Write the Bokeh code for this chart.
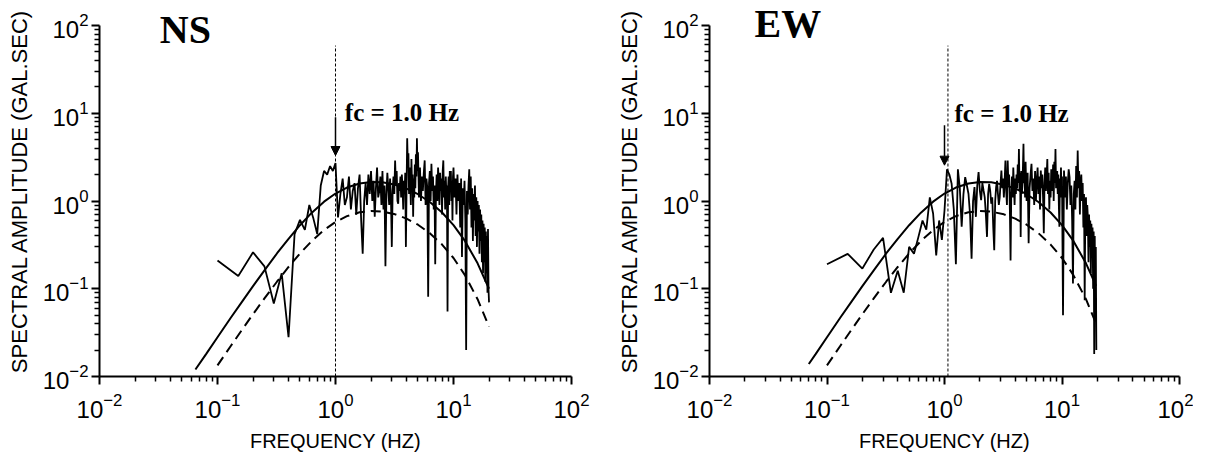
import math
from bokeh.plotting import figure
from bokeh.layouts import row
from bokeh.models import Range1d, FixedTicker, Label, Arrow, NormalHead
from bokeh.embed import file_html
from bokeh.resources import INLINE

# ---------------- data ----------------
major_ticks = [0.01, 0.1, 1, 10, 100]
minor_ticks = [0.02, 0.03, 0.04, 0.05, 0.06, 0.07, 0.08, 0.09,
               0.2, 0.3, 0.4, 0.5, 0.6, 0.7, 0.8, 0.9,
               2, 3, 4, 5, 6, 7, 8, 9,
               20, 30, 40, 50, 60, 70, 80, 90]

# observed Fourier spectrum, NS component
ns_freq = [0.10, 0.15, 0.20, 0.25, 0.30, 0.35, 0.40, 0.45, 0.50, 0.55, 0.60, 0.65, 0.70, 0.75, 0.80, 0.85, 0.90, 0.95, 1.00,
           1.05, 1.10, 1.15, 1.20, 1.25, 1.30, 1.35, 1.40, 1.45, 1.50, 1.55, 1.60, 1.65, 1.70, 1.75, 1.80, 1.85, 1.90, 1.95, 2.00,
           2.05, 2.10, 2.15, 2.20, 2.25, 2.30, 2.35, 2.40, 2.45, 2.50, 2.55, 2.60, 2.65, 2.70, 2.75, 2.80, 2.85, 2.90, 2.95, 3.00,
           3.05, 3.10, 3.15, 3.20, 3.25, 3.30, 3.35, 3.40, 3.45, 3.50, 3.55, 3.60, 3.65, 3.70, 3.75, 3.80, 3.85, 3.90, 3.95, 4.00,
           4.05, 4.10, 4.15, 4.20, 4.25, 4.30, 4.35, 4.40, 4.45, 4.50, 4.55, 4.60, 4.65, 4.70, 4.75, 4.80, 4.85, 4.90, 4.95, 5.00,
           5.1, 5.2, 5.3, 5.4, 5.5, 5.6, 5.7, 5.8, 5.9, 6.0,
           6.1, 6.2, 6.3, 6.4, 6.5, 6.6, 6.7, 6.8, 6.9, 7.0,
           7.1, 7.2, 7.3, 7.4, 7.5, 7.6, 7.7, 7.8, 7.9, 8.0,
           8.1, 8.2, 8.3, 8.4, 8.5, 8.6, 8.7, 8.8, 8.9, 9.0,
           9.1, 9.2, 9.3, 9.4, 9.5, 9.6, 9.7, 9.8, 9.9, 10.0,
           10.2, 10.4, 10.6, 10.8, 11.0, 11.2, 11.4, 11.6, 11.8, 12.0,
           12.2, 12.4, 12.6, 12.8, 13.0, 13.2, 13.4, 13.6, 13.8, 14.0,
           14.2, 14.4, 14.6, 14.8, 15.0, 15.2, 15.4, 15.6, 15.8, 16.0,
           16.2, 16.4, 16.6, 16.8, 17.0, 17.2, 17.4, 17.6, 17.8, 18.0,
           18.2, 18.4, 18.6, 18.8, 19.0, 19.2, 19.4, 19.6, 19.8, 20.0]
ns_amp = [0.21, 0.14, 0.26, 0.18, 0.068, 0.15, 0.028, 0.42, 0.61, 0.47, 0.90, 0.63, 0.42, 1.5, 2.2, 2.0, 2.5, 2.2, 2.7,
          0.65, 1.2, 1.8, 0.9, 1.1, 1.9, 0.8, 1.3, 1.6, 0.7, 1.4, 2.0, 0.6, 0.25, 1.0, 1.6, 0.9, 2.0, 1.2, 2.2,
          1.0, 1.7, 0.66, 1.4, 2.4, 1.1, 1.3, 1.9, 0.9, 2.2, 0.8, 1.5, 0.18, 1.2, 2.1, 1.4, 0.9, 1.8, 1.1, 0.30,
          1.3, 1.9, 1.2, 2.9, 1.5, 2.2, 1.0, 0.93, 1.6, 1.3, 1.9, 1.1, 2.0, 1.4, 0.8, 1.7, 1.2, 2.1, 0.30, 1.3,
          5.2, 2.6, 3.5, 1.2, 2.4, 1.7, 0.9, 3.0, 1.5, 2.0, 0.66, 1.8, 1.1, 2.6, 1.4, 3.4, 1.9, 5.2, 2.2, 3.6,
          1.1, 2.4, 1.0, 1.9, 1.3, 2.1, 2.9, 0.9, 1.8, 1.4,
          0.081, 1.6, 2.2, 1.0, 2.65, 1.3, 1.9, 0.8, 1.5, 0.19,
          1.2, 2.0, 1.0, 2.4, 1.6, 0.9, 2.1, 1.3, 1.8, 0.7,
          2.2, 2.9, 1.1, 1.7, 0.8, 1.9, 1.2, 1.5, 0.055, 1.4,
          1.9, 0.9, 2.2, 1.3, 2.2, 1.0, 1.7, 0.6, 1.9, 2.4,
          1.1, 1.8, 0.7, 2.0, 1.0, 1.6, 0.5, 1.8, 0.23, 1.4,
          0.9, 1.7, 0.6, 0.02, 1.3, 0.7, 1.5, 2.3, 0.8, 1.9,
          0.5, 1.4, 0.35, 1.2, 0.6, 1.5, 0.4, 1.1, 0.3, 1.0,
          0.45, 0.9, 0.25, 0.8, 0.35, 0.7, 0.2, 0.6, 0.15, 0.55,
          0.2, 0.5, 0.12, 0.45, 0.15, 0.4, 0.09, 0.48, 0.1, 0.07]

# observed Fourier spectrum, EW component
ew_freq = [0.10, 0.15, 0.20, 0.25, 0.30, 0.35, 0.40, 0.45, 0.50, 0.55, 0.60, 0.65, 0.70, 0.75, 0.80, 0.85, 0.90, 0.95, 1.00,
           1.05, 1.10, 1.15, 1.20, 1.25, 1.30, 1.35, 1.40, 1.45, 1.50, 1.55, 1.60, 1.65, 1.70, 1.75, 1.80, 1.85, 1.90, 1.95, 2.00,
           2.05, 2.10, 2.15, 2.20, 2.25, 2.30, 2.35, 2.40, 2.45, 2.50, 2.55, 2.60, 2.65, 2.70, 2.75, 2.80, 2.85, 2.90, 2.95, 3.00,
           3.05, 3.10, 3.15, 3.20, 3.25, 3.30, 3.35, 3.40, 3.45, 3.50, 3.55, 3.60, 3.65, 3.70, 3.75, 3.80, 3.85, 3.90, 3.95, 4.00,
           4.05, 4.10, 4.15, 4.20, 4.25, 4.30, 4.35, 4.40, 4.45, 4.50, 4.55, 4.60, 4.65, 4.70, 4.75, 4.80, 4.85, 4.90, 4.95, 5.00,
           5.1, 5.2, 5.3, 5.4, 5.5, 5.6, 5.7, 5.8, 5.9, 6.0,
           6.1, 6.2, 6.3, 6.4, 6.5, 6.6, 6.7, 6.8, 6.9, 7.0,
           7.1, 7.2, 7.3, 7.4, 7.5, 7.6, 7.7, 7.8, 7.9, 8.0,
           8.1, 8.2, 8.3, 8.4, 8.5, 8.6, 8.7, 8.8, 8.9, 9.0,
           9.1, 9.2, 9.3, 9.4, 9.5, 9.6, 9.7, 9.8, 9.9, 10.0,
           10.2, 10.4, 10.6, 10.8, 11.0, 11.2, 11.4, 11.6, 11.8, 12.0,
           12.2, 12.4, 12.6, 12.8, 13.0, 13.2, 13.4, 13.6, 13.8, 14.0,
           14.2, 14.4, 14.6, 14.8, 15.0, 15.2, 15.4, 15.6, 15.8, 16.0,
           16.2, 16.4, 16.6, 16.8, 17.0, 17.2, 17.4, 17.6, 17.8, 18.0,
           18.2, 18.4, 18.6, 18.8, 19.0, 19.2, 19.4, 19.6]
ew_amp = [0.19, 0.25, 0.17, 0.28, 0.38, 0.09, 0.16, 0.09, 0.30, 0.25, 0.39, 0.60, 0.47, 1.1, 0.72, 0.24, 0.60, 0.36, 0.78,
          2.3, 2.0, 1.57, 0.8, 0.19, 2.3, 1.4, 0.51, 1.2, 1.87, 1.5, 1.21, 0.7, 0.22, 1.0, 1.44, 0.66, 1.5, 2.14, 1.3,
          1.02, 1.6, 1.32, 1.1, 0.7, 0.39, 1.2, 1.57, 1.3, 0.93, 1.1, 0.5, 0.275, 1.0, 1.44, 1.7, 1.2, 0.9, 1.1, 1.6,
          2.23, 1.4, 1.8, 1.1, 1.7, 2.9, 1.3, 0.9, 2.9, 1.5, 2.0, 0.8, 0.21, 1.2, 1.9, 1.1, 2.4, 1.44, 0.9, 1.8,
          1.2, 2.0, 1.4, 2.6, 1.6, 3.9, 1.3, 2.1, 0.39, 2.2, 1.2, 1.5, 2.4, 4.5, 1.6, 2.0, 1.1, 2.8, 1.5, 1.0,
          2.1, 0.33, 1.4, 2.0, 2.65, 1.3, 1.8, 0.9, 2.2, 1.02,
          1.7, 2.4, 1.2, 1.9, 0.8, 2.23, 1.4, 2.0, 1.1, 0.43,
          1.6, 2.4, 1.3, 1.9, 3.0, 1.2, 2.1, 0.8, 1.7, 1.1,
          2.3, 1.5, 1.3, 2.6, 1.0, 2.8, 1.6, 3.9, 1.4, 1.6,
          2.2, 1.2, 2.0, 0.9, 0.51, 1.8, 1.1, 2.4, 1.2, 1.9,
          0.05, 2.23, 1.1, 1.9, 0.8, 1.6, 2.3, 1.87, 0.9, 1.5,
          0.6, 0.115, 1.2, 1.7, 0.8, 2.5, 1.1, 3.77, 1.4, 2.2,
          0.7, 1.6, 2.0, 1.0, 1.6, 0.5, 1.2, 0.074, 0.9, 1.1,
          0.4, 0.9, 0.66, 0.2, 0.7, 0.3, 0.6, 0.15, 0.55, 0.25,
          0.5, 0.1, 0.45, 0.018, 0.4, 0.05, 0.3, 0.02]

# theoretical source spectra (solid = model, dashed = lower model)
ns_model_freq = [0.065, 0.08, 0.1, 0.13, 0.16, 0.2, 0.25, 0.32, 0.4, 0.5, 0.63, 0.8, 1.0, 1.25, 1.6,
                 2.0, 2.5, 3.2, 4.0, 5.0, 6.3, 8.0, 10, 12.5, 16, 20]
ns_solid = [0.012, 0.018, 0.028, 0.047, 0.070, 0.107, 0.162, 0.254, 0.371, 0.53, 0.736, 0.983, 1.217, 1.424, 1.582,
            1.646, 1.631, 1.532, 1.384, 1.195, 0.974, 0.739, 0.532, 0.351, 0.195, 0.100]
ns_dash_freq = [0.1, 0.13, 0.16, 0.2, 0.25, 0.32, 0.4, 0.5, 0.63, 0.8, 1.0, 1.25, 1.6,
                2.0, 2.5, 3.2, 4.0, 5.0, 6.3, 8.0, 10, 12.5, 16, 20]
ns_dashed = [0.0134, 0.0224, 0.0335, 0.0513, 0.0777, 0.121, 0.177, 0.2525, 0.350, 0.467, 0.577, 0.672, 0.743,
             0.770, 0.757, 0.705, 0.630, 0.537, 0.430, 0.319, 0.224, 0.143, 0.076, 0.037]

ew_model_freq = [0.07, 0.08, 0.1, 0.13, 0.16, 0.2, 0.25, 0.32, 0.4, 0.5, 0.63, 0.8, 1.0, 1.25, 1.6,
                 2.0, 2.5, 3.2, 4.0, 5.0, 6.3, 8.0, 10, 12.5, 16, 19.5]
ew_solid = [0.0139, 0.018, 0.028, 0.047, 0.070, 0.107, 0.162, 0.254, 0.371, 0.53, 0.736, 0.983, 1.217, 1.424, 1.582,
            1.646, 1.631, 1.532, 1.384, 1.195, 0.974, 0.739, 0.532, 0.351, 0.195, 0.108]
ew_dash_freq = [0.1, 0.13, 0.16, 0.2, 0.25, 0.32, 0.4, 0.5, 0.63, 0.8, 1.0, 1.25, 1.6,
                2.0, 2.5, 3.2, 4.0, 5.0, 6.3, 8.0, 10, 12.5, 16, 19.5]
ew_dashed = [0.0134, 0.0224, 0.0335, 0.0513, 0.0777, 0.121, 0.177, 0.2525, 0.350, 0.467, 0.577, 0.672, 0.743,
             0.770, 0.757, 0.705, 0.630, 0.537, 0.430, 0.319, 0.224, 0.143, 0.076, 0.040]

fc_value = 1.0          # corner frequency (Hz)
ns_fc_line = 1.0        # dotted marker line position
ew_fc_line = 1.07
fc_text = "fc = 1.0  Hz"
y_label = "SPECTRAL AMPLITUDE (GAL.SEC)"
x_label = "FREQUENCY (HZ)"

SANS = "Liberation Sans"
SERIF = "Liberation Serif"

# frame extends 20px above the drawn y axis so the titles are not clipped
EXTRA_TOP = 20
PX_PER_DECADE = 87.75
Y_END = 10 ** (2 + EXTRA_TOP / PX_PER_DECADE)


def panel(title, title_x, title_y, freq, amp, sf, sv, df, dv, fc_line,
          arrow_top, arrow_tip, text_x, text_y,
          mbl, fw, mbr):
    p = figure(x_axis_type="log", y_axis_type="log",
               x_range=Range1d(0.01, 100), y_range=Range1d(0.01, Y_END),
               frame_width=fw, frame_height=351 + EXTRA_TOP,
               min_border_left=mbl, min_border_right=mbr,
               min_border_top=25 - EXTRA_TOP, min_border_bottom=64,
               output_backend="svg", toolbar_location=None,
               background_fill_color="white", border_fill_color="white",
               outline_line_color=None)
    p.grid.visible = False
    for ax in (p.xaxis[0], p.yaxis[0]):
        ax.ticker = FixedTicker(ticks=major_ticks, minor_ticks=minor_ticks)
        ax.axis_line_width = 2
        ax.axis_line_color = "black"
        ax.major_tick_line_width = 2
        ax.major_tick_line_color = "black"
        ax.major_tick_out = 8
        ax.major_tick_in = 0
        ax.minor_tick_out = 5
        ax.minor_tick_in = 0
        ax.minor_tick_line_width = 1.5
        ax.minor_tick_line_color = "black"
        ax.major_label_text_font = SANS
        ax.major_label_text_font_size = "24px"
        ax.major_label_text_color = "black"
        ax.axis_label_text_font = SANS
        ax.axis_label_text_font_style = "normal"
        ax.axis_label_text_color = "black"
    p.yaxis.bounds = (0.01, 100)
    p.xaxis.major_label_standoff = 8
    p.yaxis.major_label_standoff = 3
    p.xaxis.axis_label = x_label
    p.xaxis.axis_label_text_font_size = "20px"
    p.xaxis.axis_label_standoff = 9
    p.yaxis.axis_label = y_label
    p.yaxis.axis_label_text_font_size = "22px"
    p.yaxis.axis_label_standoff = 8

    # model curves
    p.line(sf, sv, line_color="black", line_width=2)
    p.line(df, dv, line_color="black", line_width=2, line_dash="10 6")
    # observed spectrum
    p.line(freq, amp, line_color="black", line_width=1.8)

    # corner frequency marker
    p.line([fc_line, fc_line], [0.01, 59], line_color="black", line_width=1, line_dash="3 2")
    p.add_layout(Arrow(end=NormalHead(size=9, fill_color="black", line_color="black"),
                       x_start=fc_value, y_start=arrow_top, x_end=fc_value, y_end=arrow_tip,
                       line_color="black", line_width=1.5))
    p.add_layout(Label(x=text_x, y=text_y, text=fc_text, text_font=SERIF,
                       text_font_style="bold", text_font_size="25px",
                       text_baseline="alphabetic", text_color="black"))
    p.add_layout(Label(x=title_x, y=title_y, text=title, text_font=SERIF,
                       text_font_style="bold", text_font_size="40px",
                       text_baseline="alphabetic", text_color="black"))
    return p


p1 = panel("NS", 0.0324, 90, ns_freq, ns_amp, ns_model_freq, ns_solid, ns_dash_freq, ns_dashed,
           ns_fc_line, 9.0, 3.3, 1.2, 10.2, 99, 472, 29)
p2 = panel("EW", 0.0242, 106, ew_freq, ew_amp, ew_model_freq, ew_solid, ew_dash_freq, ew_dashed,
           ew_fc_line, 7.3, 2.56, 1.216, 9.9, 109, 470, 14)

layout = row(p1, p2)
open("out.html", "w").write(file_html(layout, INLINE))
